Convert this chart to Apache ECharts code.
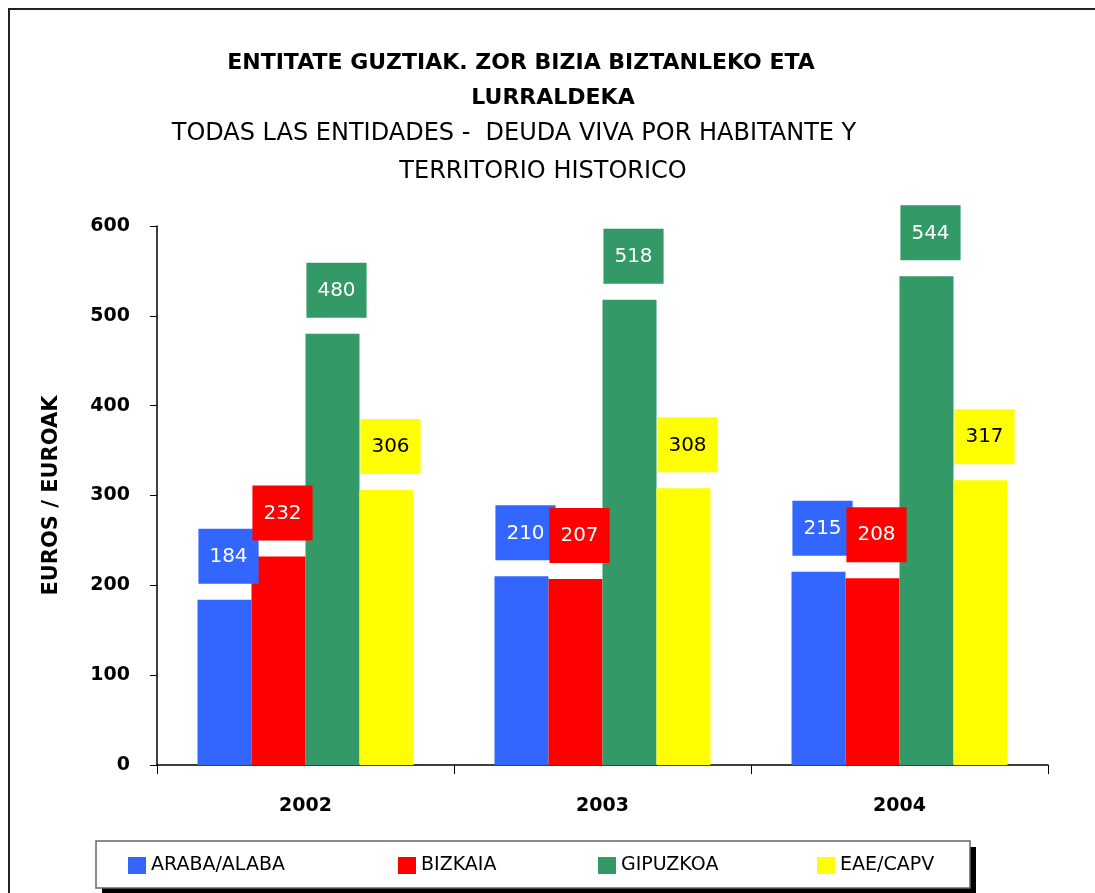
<!DOCTYPE html>
<html>
<head>
<meta charset="utf-8">
<script src="https://cdn.jsdelivr.net/npm/echarts@6/dist/echarts.min.js"></script>
<style>
  html, body { margin: 0; padding: 0; background: #fff; }
  #chart { width: 1095px; height: 893px; }
</style>
</head>
<body>
<div id="chart"></div>
<script>
// datos del gráfico
const years = ['2002', '2003', '2004']
const seriesNames = ['ARABA/ALABA', 'BIZKAIA', 'GIPUZKOA', 'EAE/CAPV']
const araba = [184, 210, 215]
const bizkaia = [232, 207, 208]
const gipuzkoa = [480, 518, 544]
const eae = [306, 308, 317]
const yTicks = [0, 100, 200, 300, 400, 500, 600]

const colors = ['#3366FF', '#FF0000', '#339966', '#FFFF00']
const labelColors = ['#fff', '#fff', '#fff', '#000']
const legendLeft = [128, 398, 598, 817]
const values = [araba, bizkaia, gipuzkoa, eae]
const font = '"DejaVu Sans", sans-serif'

const chart = echarts.init(document.getElementById('chart'))

const series = values.map((data, i) => ({
  name: seriesNames[i],
  type: 'bar',
  data: data,
  barWidth: 54,
  barGap: '0%',
  itemStyle: { color: colors[i] },
  label: {
    show: true,
    position: 'top',
    distance: 16,
    offset: [4, 0],
    color: labelColors[i],
    backgroundColor: colors[i],
    fontFamily: font,
    fontSize: 20,
    padding: [18, 11, 17, 11]
  }
}))

// una leyenda por serie para colocar cada elemento como en el original
const legends = seriesNames.map((name, i) => ({
  data: [name],
  left: legendLeft[i],
  top: 856,
  padding: 0,
  itemWidth: 18,
  itemHeight: 17,
  itemGap: 8,
  icon: 'rect',
  textStyle: { fontFamily: font, fontSize: 19, color: '#000' }
}))

const option = {
  backgroundColor: '#fff',
  animation: false,
  grid: { left: 157, right: 47, top: 226, bottom: 128 },
  legend: legends,
  xAxis: {
    type: 'category',
    data: years,
    axisLine: { lineStyle: { color: '#000', width: 1.5 } },
    axisTick: { show: true, length: 9, lineStyle: { color: '#000' } },
    axisLabel: { margin: 32, fontFamily: font, fontSize: 19, fontWeight: 'bold', color: '#000' }
  },
  yAxis: {
    type: 'value',
    min: yTicks[0],
    max: yTicks[yTicks.length - 1],
    interval: 100,
    name: 'EUROS / EUROAK',
    nameLocation: 'middle',
    nameGap: 95,
    nameTextStyle: { fontFamily: font, fontSize: 21, fontWeight: 'bold', color: '#000' },
    axisLine: { show: true, lineStyle: { color: '#000', width: 1.5 } },
    axisTick: { show: true, length: 7, lineStyle: { color: '#000' } },
    splitLine: { show: false },
    axisLabel: { margin: 27, fontFamily: font, fontSize: 19, fontWeight: 'bold', color: '#000' }
  },
  graphic: [
    {
      type: 'rect',
      shape: { x: 9, y: 9, width: 1200, height: 1000 },
      style: { fill: 'none', stroke: '#222', lineWidth: 2 },
      silent: true
    },
    {
      // sombra de la caja de la leyenda
      type: 'rect',
      z: 0,
      shape: { x: 102, y: 847, width: 874, height: 60 },
      style: { fill: '#000' },
      silent: true
    },
    {
      type: 'rect',
      z: 1,
      shape: { x: 96, y: 841, width: 874, height: 47 },
      style: { fill: '#fff', stroke: '#666', lineWidth: 1.5 },
      silent: true
    },
    {
      type: 'text', x: 521, y: 63,
      style: { text: 'ENTITATE GUZTIAK. ZOR BIZIA BIZTANLEKO ETA', align: 'center', verticalAlign: 'middle', font: 'bold 22px ' + font, fill: '#000' }
    },
    {
      type: 'text', x: 553, y: 98,
      style: { text: 'LURRALDEKA', align: 'center', verticalAlign: 'middle', font: 'bold 22px ' + font, fill: '#000' }
    },
    {
      type: 'text', x: 514, y: 134,
      style: { text: 'TODAS LAS ENTIDADES -  DEUDA VIVA POR HABITANTE Y', align: 'center', verticalAlign: 'middle', font: '24px ' + font, fill: '#000' }
    },
    {
      type: 'text', x: 543, y: 172,
      style: { text: 'TERRITORIO HISTORICO', align: 'center', verticalAlign: 'middle', font: '24px ' + font, fill: '#000' }
    }
  ],
  series: series
}

chart.setOption(option)
window.addEventListener('resize', chart.resize)
</script>
</body>
</html>
